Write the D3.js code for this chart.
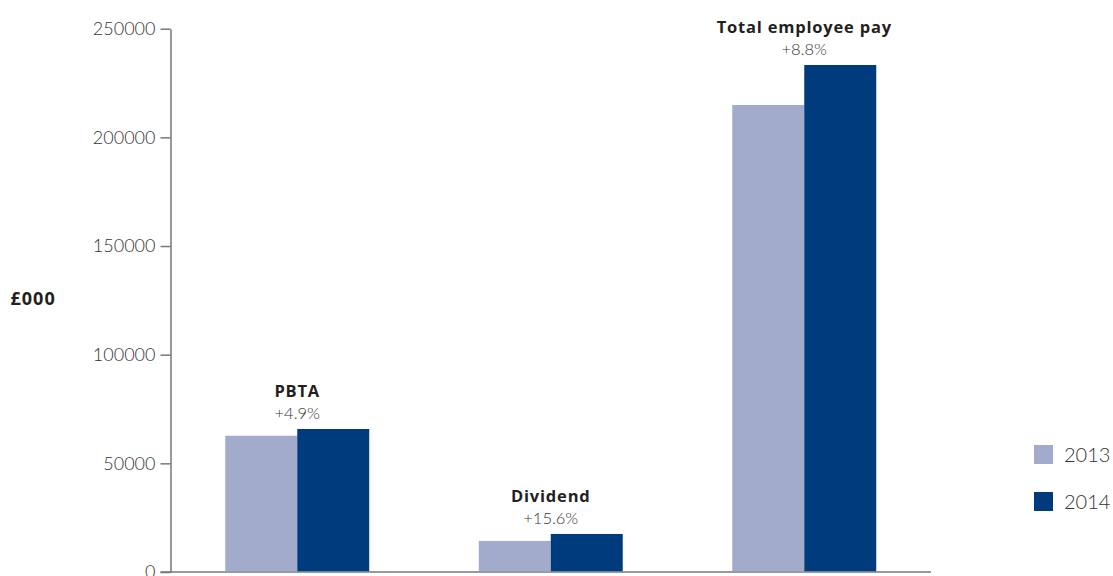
<!DOCTYPE html>
<html>
<head>
<meta charset="utf-8">
<script src="https://cdn.jsdelivr.net/npm/d3@7"></script>
<style>
  body { margin: 0; background: #fff; }
  svg text { font-family: Lato, "Open Sans", sans-serif; }
  svg text.bold { font-family: "Open Sans", Lato, sans-serif; font-weight: bold; }
</style>
</head>
<body>
<div id="chart"></div>
<script>
// data
const categories = ['PBTA', 'Dividend', 'Total employee pay'];
const changes = ['+4.9%', '+15.6%', '+8.8%'];
const years = ['2013', '2014'];
const values2013 = [62700, 14300, 214900];
const values2014 = [65800, 17500, 233300];
const yTicks = [0, 50000, 100000, 150000, 200000, 250000];

const colors = {'2013': '#a2abcc', '2014': '#003c7d'};

const margin = {top: 28.7, right: 182, bottom: 4, left: 170.5};
const width = 1113 - margin.left - margin.right;
const height = 576 - margin.top - margin.bottom;

const svg = d3.select('#chart')
    .append('svg')
    .attr('width', 1113)
    .attr('height', 576)
    .append('g')
    .attr('transform', 'translate(' + margin.left + ',' + margin.top + ')');

// scales
let x = d3.scaleBand()
    .domain(categories)
    .range([0, width])
    .paddingInner(0.432)
    .paddingOuter(0.216);

let xSub = d3.scaleBand()
    .domain(years)
    .range([0, x.bandwidth()]);

let y = d3.scaleLinear()
    .domain([0, 250000])
    .range([height, 0]);

// y axis
let yAxis = svg.append('g')
    .call(d3.axisLeft(y).tickValues(yTicks).tickFormat(d3.format('d'))
        .tickSize(10).tickSizeOuter(0).tickPadding(5));
yAxis.select('.domain').attr('stroke', '#777').attr('stroke-width', 1.5);
yAxis.selectAll('.tick line').attr('stroke', '#777').attr('stroke-width', 1.5);
yAxis.selectAll('.tick text')
    .style('fill', '#333')
    .style('font-size', '18px')
    .style('font-weight', 300);

// x axis line
svg.append('line')
    .attr('x1', -10)
    .attr('x2', width)
    .attr('y1', height)
    .attr('y2', height)
    .attr('stroke', '#777')
    .attr('stroke-width', 1.5);

// bars
const rows = categories.map((c, i) => ({cat: c, change: changes[i], '2013': values2013[i], '2014': values2014[i]}));

let groups = svg.selectAll('.grp')
    .data(rows)
    .enter()
    .append('g')
    .attr('class', 'grp')
    .attr('transform', d => 'translate(' + x(d.cat) + ',0)');

groups.selectAll('rect')
    .data(d => years.map(yr => ({year: yr, value: d[yr]})))
    .enter()
    .append('rect')
    .attr('x', d => xSub(d.year))
    .attr('y', d => y(d.value))
    .attr('width', xSub.bandwidth())
    .attr('height', d => height - y(d.value) - 0.75)
    .attr('fill', d => colors[d.year]);

// labels above each group
groups.append('text')
    .attr('x', x.bandwidth() / 2)
    .attr('y', d => y(d['2014']) - 10)
    .attr('text-anchor', 'middle')
    .style('fill', '#333')
    .style('font-size', '16.5px')
    .style('font-weight', 300)
    .text(d => d.change);

groups.append('text')
    .attr('class', 'bold')
    .attr('x', x.bandwidth() / 2)
    .attr('y', d => y(d['2014']) - 32)
    .attr('text-anchor', 'middle')
    .style('fill', '#231f20')
    .style('font-size', '16.5px')
    .style('letter-spacing', '0.8px')
    .text(d => d.cat);

// y label
svg.append('text')
    .attr('class', 'bold')
    .attr('x', -160)
    .attr('y', 276)
    .style('fill', '#231f20')
    .style('font-size', '18px')
    .style('letter-spacing', '1px')
    .text('£000');

// legend
let legend = svg.append('g')
    .attr('transform', 'translate(' + (1034 - margin.left) + ',' + (445 - margin.top) + ')');

let li = legend.selectAll('g')
    .data(years)
    .enter()
    .append('g')
    .attr('transform', (d, i) => 'translate(0,' + i * 47 + ')');

li.append('rect')
    .attr('width', 19)
    .attr('height', 19)
    .attr('fill', d => colors[d]);

li.append('text')
    .attr('x', 30)
    .attr('y', 17)
    .style('fill', '#333')
    .style('font-size', '20px')
    .style('font-weight', 300)
    .text(d => d);
</script>
</body>
</html>
